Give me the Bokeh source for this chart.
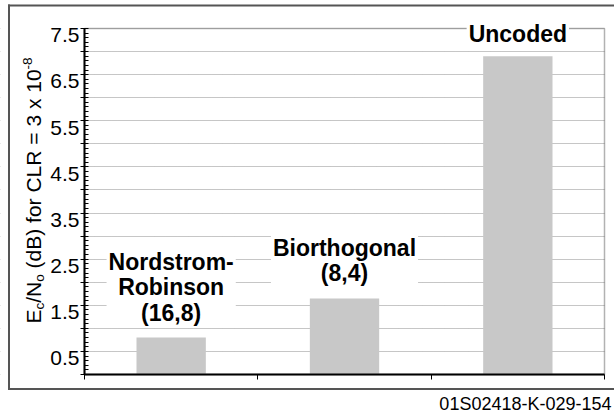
import math
from bokeh.plotting import figure
from bokeh.models import (Range1d, SingleIntervalTicker, FixedTicker,
                          CustomJSTickFormatter, Label, BoxAnnotation)
from bokeh.embed import file_html
from bokeh.resources import INLINE

# ---- data ----
categories = ["Nordstrom-\nRobinson\n(16,8)", "Biorthogonal\n(8,4)", "Uncoded"]
values = [0.8, 1.65, 6.9]
y_max = 7.5
y_tick_step = 0.5
footer_text = "01S02418-K-029-154"

# ---- layout (page == canvas pixels) ----
W, H = 614, 412
PL, PT, PR, PB = 84, 28, 604, 374          # plot-area edges
FONT = "Liberation Sans"
n = len(categories)
xs_per = (PR - PL) / n
ys_per = (PB - PT) / y_max
x_range = Range1d(-PL / xs_per, n + (W - PR) / xs_per)
y_range = Range1d(-(H - PB) / ys_per, y_max + PT / ys_per)

p = figure(width=W, height=H, output_backend="svg", toolbar_location=None,
           x_range=x_range, y_range=y_range,
           min_border_left=0, min_border_top=0,
           min_border_right=0, min_border_bottom=0)
p.background_fill_color = "white"
p.border_fill_color = "white"
p.outline_line_color = None

# grid
p.xgrid.visible = False
p.ygrid.ticker = SingleIntervalTicker(interval=y_tick_step, num_minor_ticks=0)
p.ygrid.grid_line_color = "#8c8c8c"
p.ygrid.grid_line_dash = "1 1"
p.ygrid.grid_line_width = 1

# white masks outside the plot area (keep grid inside only)
for kw in (dict(right=0), dict(left=n), dict(top=0), dict(bottom=y_max)):
    p.add_layout(BoxAnnotation(**kw, fill_color="white", fill_alpha=1,
                               line_alpha=0, level="underlay"))
# plot-area border
p.add_layout(BoxAnnotation(left=0, right=n, bottom=0, top=y_max, fill_alpha=0,
                           line_color="black", line_width=1.5, level="underlay"))

# y axis
p.yaxis.fixed_location = 0
p.yaxis.bounds = (0, y_max)
p.yaxis.ticker = SingleIntervalTicker(interval=y_tick_step, num_minor_ticks=5)
p.yaxis.formatter = CustomJSTickFormatter(
    code="return (Math.round(tick*2) % 2 === 1) ? '\\n' + tick.toFixed(1) : '';")
p.yaxis.major_label_text_font = FONT
p.yaxis.major_label_text_font_size = "21px"
p.yaxis.major_label_text_line_height = 0.55
p.yaxis.major_label_text_color = "black"
p.yaxis.major_label_standoff = 1
p.yaxis.major_tick_in = 3
p.yaxis.major_tick_out = 4
p.yaxis.minor_tick_in = 4
p.yaxis.minor_tick_out = 0
p.yaxis.axis_line_width = 2
p.yaxis.axis_line_color = "black"
p.yaxis.major_tick_line_color = "black"
p.yaxis.minor_tick_line_color = "black"

# x axis
p.xaxis.fixed_location = 0
p.xaxis.bounds = (0, n)
p.xaxis.ticker = FixedTicker(ticks=list(range(n + 1)), minor_ticks=[])
p.xaxis.formatter = CustomJSTickFormatter(code="return '';")
p.xaxis.major_tick_in = 0
p.xaxis.major_tick_out = 5
p.xaxis.axis_line_width = 2
p.xaxis.axis_line_color = "black"
p.xaxis.major_tick_line_color = "black"
p.xaxis.major_label_text_font_size = "1px"

# bars
xs = [i + 0.5 for i in range(n)]
p.vbar(x=xs, top=values, width=0.4, fill_color="#c8c8c8", line_color=None)

# outer frame (top, left, bottom edges; right edge lies beyond the page)
FRAME = "#555555"
for l, r, t, b in ((7.5, W + 20, 4, 6), (7.5, 9.5, 4, 389.5), (7.5, W + 20, 387.5, 389.5)):
    p.add_layout(BoxAnnotation(left=l, right=r, top=t, bottom=b,
                               left_units="canvas", right_units="canvas",
                               top_units="canvas", bottom_units="canvas",
                               fill_color=FRAME, fill_alpha=1, line_alpha=0))

# bar labels
offs = [10, 10, 7]
for i, (c, v) in enumerate(zip(categories, values)):
    p.add_layout(Label(x=xs[i], y=v, y_offset=offs[i], text=c,
                       text_align="center", text_baseline="bottom",
                       text_font=FONT, text_font_style="bold",
                       text_font_size="23px", text_line_height=0.97,
                       text_color="black",
                       background_fill_color="white", padding=2))

# y-axis title with sub/superscripts (rotated)
pieces = [("E", 21, 0), ("c", 13.5, 5.5), ("/N", 21, 0), ("o", 13.5, 5.5),
          (" (dB) for CLR = 3 x 10", 21, 0), ("-8", 13.5, -6.5)]
adv = {"E": .667, "c": .5, "/": .278, "N": .722, "o": .556, " ": .278, "(": .333,
       "d": .556, "B": .667, ")": .333, "f": .278, "r": .333, "C": .722, "L": .556,
       "R": .722, "=": .584, "3": .556, "x": .5, "1": .556, "0": .556, "-": .333,
       "8": .556}
base_x = 33.0
cy = 323.0
for txt, size, shift in pieces:
    lead = len(txt) - len(txt.lstrip(" "))
    cy -= lead * adv[" "] * size
    body = txt.strip(" ")
    p.add_layout(Label(x=base_x + shift, y=cy, x_units="canvas", y_units="canvas",
                       text=body, angle=math.pi / 2, text_align="left",
                       text_baseline="alphabetic", text_font=FONT,
                       text_font_size=f"{size}px", text_color="black"))
    cy -= sum(adv[ch] for ch in body) * size

# footer
p.add_layout(Label(x=611, y=403, x_units="canvas", y_units="canvas",
                   text=footer_text, text_align="right", text_baseline="alphabetic",
                   text_font=FONT, text_font_size="18px", text_color="black"))

open("out.html", "w").write(file_html(p, INLINE))
